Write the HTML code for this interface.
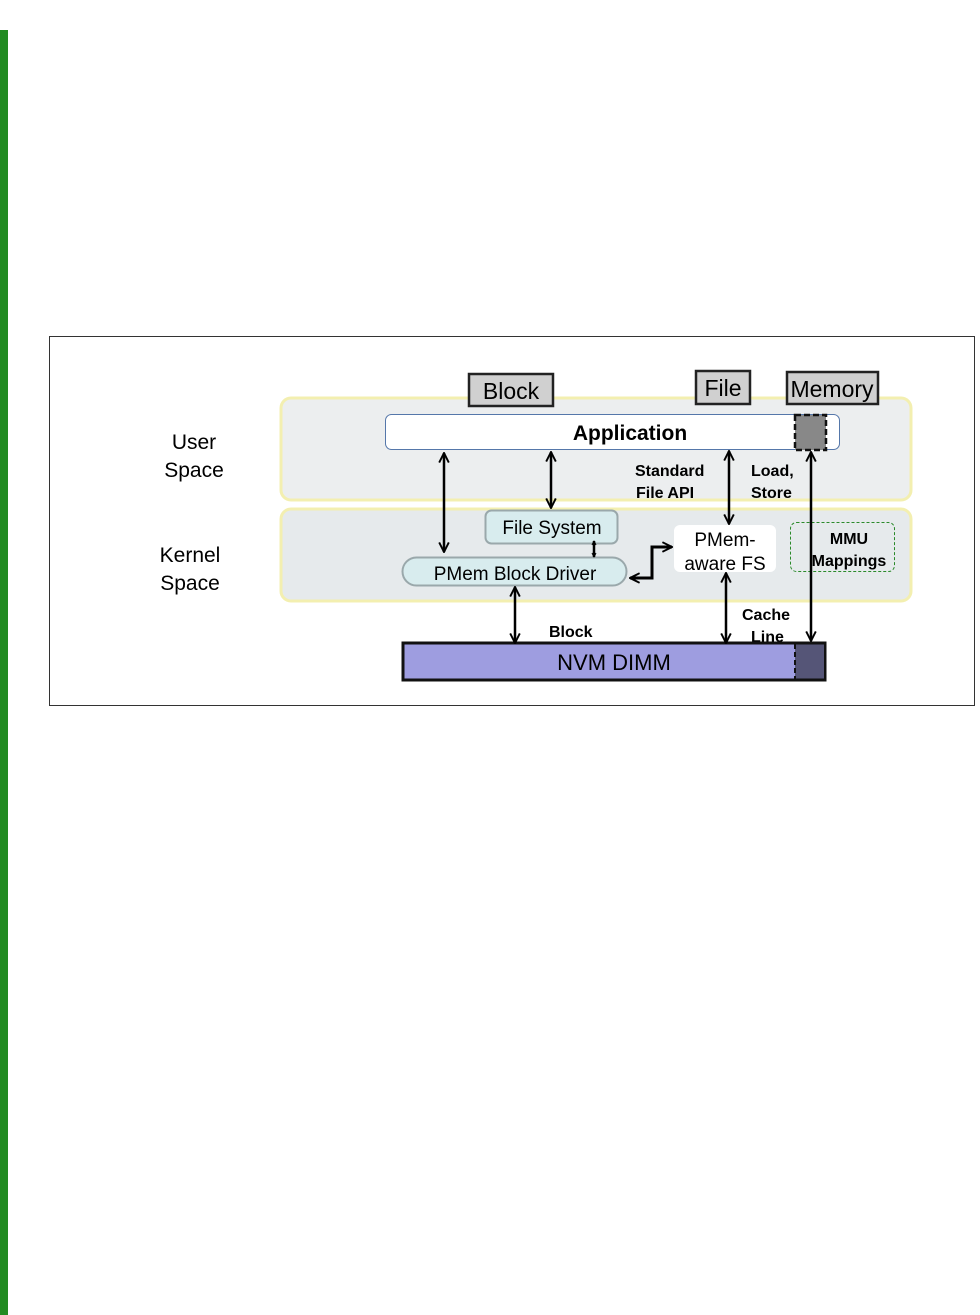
<!DOCTYPE html>
<html><head><meta charset="utf-8"><style>
html,body{margin:0;padding:0;background:#fff;width:980px;height:1315px;overflow:hidden}
svg{position:absolute;left:0;top:0}
text{font-family:"Liberation Sans",Arial,sans-serif}
</style></head><body>
<svg width="980" height="1315" viewBox="0 0 980 1315">
<defs>
<marker id="a" viewBox="0 0 10 10" refX="9" refY="5" markerWidth="5" markerHeight="5" orient="auto-start-reverse" markerUnits="userSpaceOnUse">
<path d="M1,1 L9,5 L1,9" fill="none" stroke="#000" stroke-width="2"/></marker>
<marker id="b" viewBox="0 0 10 10" refX="9" refY="5" markerWidth="12" markerHeight="12" orient="auto-start-reverse" markerUnits="userSpaceOnUse">
<path d="M1,1 L9,5 L1,9" fill="none" stroke="#000" stroke-width="1.6"/></marker>
</defs>
<rect x="0" y="30" width="8" height="1285" fill="#228B22"/>
<rect x="49.5" y="336.5" width="925" height="369" fill="#fff" stroke="#333" stroke-width="1"/>
<!-- bands -->
<rect x="281" y="398" width="630" height="102" rx="10" fill="#eceeef" stroke="#f3efb0" stroke-width="3"/>
<rect x="281" y="509" width="630" height="92" rx="10" fill="#e6eaec" stroke="#f3efb0" stroke-width="3"/>
<text x="194" y="449" font-size="21" text-anchor="middle">User</text>
<text x="194" y="477" font-size="21" text-anchor="middle">Space</text>
<text x="190" y="562" font-size="21" text-anchor="middle">Kernel</text>
<text x="190" y="590" font-size="21" text-anchor="middle">Space</text>
<!-- top labels -->
<rect x="469" y="374" width="84" height="32" fill="#d0d0d0" stroke="#222" stroke-width="2.5"/>
<text x="511" y="399" font-size="23" text-anchor="middle">Block</text>
<rect x="696" y="371" width="54" height="33" fill="#d0d0d0" stroke="#222" stroke-width="2.5"/>
<text x="723" y="396" font-size="23" text-anchor="middle">File</text>
<rect x="787" y="372" width="91" height="32" fill="#d0d0d0" stroke="#222" stroke-width="2.5"/>
<text x="832" y="397" font-size="23" text-anchor="middle">Memory</text>
<!-- application -->
<rect x="385.5" y="414.5" width="454" height="35" rx="6" fill="#fff" stroke="#5577aa" stroke-width="1"/>
<text x="630" y="440" font-size="21" font-weight="bold" text-anchor="middle">Application</text>
<rect x="795" y="415" width="31" height="35" fill="#888" stroke="#111" stroke-width="2.5" stroke-dasharray="6,3"/>
<!-- kernel boxes -->
<rect x="485.5" y="510.5" width="132" height="33" rx="6" fill="#d8ecee" stroke="#9aa8ab" stroke-width="2"/>
<text x="552" y="534" font-size="19" text-anchor="middle">File System</text>
<rect x="402.5" y="557.5" width="224" height="28" rx="14" fill="#d8ecee" stroke="#9aa8ab" stroke-width="2"/>
<text x="515" y="580" font-size="19" text-anchor="middle">PMem Block Driver</text>
<rect x="674" y="525" width="102" height="47" rx="6" fill="#fff"/>
<text x="725" y="546" font-size="19" text-anchor="middle">PMem-</text>
<text x="725" y="570" font-size="19" text-anchor="middle">aware FS</text>
<rect x="790.5" y="522.5" width="104" height="49" rx="6" fill="none" stroke="#2a8a2a" stroke-width="1" stroke-dasharray="3,2"/>
<text x="849" y="544" font-size="16" font-weight="bold" text-anchor="middle">MMU</text>
<text x="849" y="566" font-size="16" font-weight="bold" text-anchor="middle">Mappings</text>
<!-- labels -->
<text x="635" y="476" font-size="16" font-weight="bold">Standard</text>
<text x="636" y="498" font-size="16" font-weight="bold">File API</text>
<text x="751" y="476" font-size="16" font-weight="bold">Load,</text>
<text x="751" y="498" font-size="16" font-weight="bold">Store</text>
<text x="549" y="637" font-size="16" font-weight="bold">Block</text>
<text x="742" y="620" font-size="16" font-weight="bold">Cache</text>
<text x="751" y="642" font-size="16" font-weight="bold">Line</text>
<!-- NVM -->
<rect x="403" y="643" width="422" height="37" fill="#9e9de0" stroke="#111" stroke-width="3"/>
<rect x="795" y="644.5" width="29" height="34" fill="#555577"/>
<line x1="795" y1="644" x2="795" y2="679" stroke="#111" stroke-width="2" stroke-dasharray="5,3"/>
<text x="614" y="670" font-size="22" text-anchor="middle">NVM DIMM</text>
<!-- arrows -->
<g stroke="#000" stroke-width="2.5" fill="none">
<line x1="444" y1="453" x2="444" y2="552" marker-start="url(#b)" marker-end="url(#b)"/>
<line x1="551" y1="452" x2="551" y2="508" marker-start="url(#b)" marker-end="url(#b)"/>
<line x1="729" y1="451" x2="729" y2="524" marker-start="url(#b)" marker-end="url(#b)"/>
<line x1="811" y1="452" x2="811" y2="641" marker-start="url(#b)" marker-end="url(#b)"/>
<line x1="515" y1="587" x2="515" y2="643" marker-start="url(#b)" marker-end="url(#b)"/>
<line x1="726" y1="573" x2="726" y2="643" marker-start="url(#b)" marker-end="url(#b)"/>
<line x1="594" y1="541" x2="594" y2="557" marker-start="url(#a)" marker-end="url(#a)"/>
<polyline points="630,578 652,578 652,547 672,547" stroke-width="3" marker-start="url(#b)" marker-end="url(#b)"/>
</g>
</svg>
</body></html>
